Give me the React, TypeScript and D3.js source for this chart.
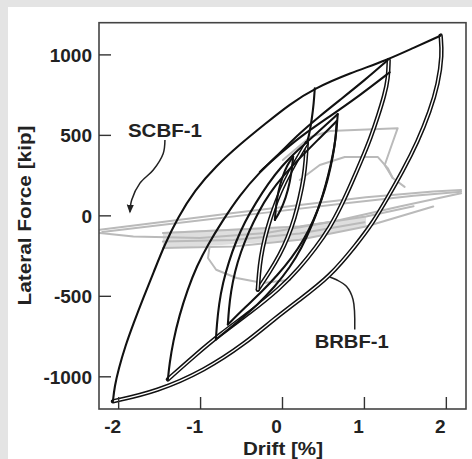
import React from 'react';
import * as d3 from 'd3';

type P = [number, number];

const xTicks = [-2, -1, 0, 1, 2];
const yTicks = [-1000, -500, 0, 500, 1000];

// BRBF-1 (black) hysteresis branches: [drift %, force kip]
const brbfA_up: P[] = [[-2.07,-1152],[-2.05,-1060],[-2.0,-950],[-1.92,-810],[-1.82,-670],[-1.7,-510],[-1.57,-347],[-1.44,-180],[-1.28,-12],[-1.07,161],[-0.81,310],[-0.53,440],[-0.216,570],[0.089,694],[0.394,793],[0.821,886],[1.272,967],[1.613,1047],[1.833,1097],[1.93,1120]];
const brbfA_lo: P[] = [[1.93,1120],[1.95,1000],[1.9,820],[1.8,650],[1.65,460],[1.47,280],[1.28,110],[1.1,-45],[0.9,-180],[0.577,-378],[0.211,-520],[-0.1,-640],[-0.45,-790],[-0.95,-960],[-1.533,-1091],[-2.07,-1152]];
const brbfB_up: P[] = [[-1.399,-1016],[-1.38,-920],[-1.335,-780],[-1.26,-620],[-1.16,-460],[-1.045,-310],[-0.911,-180],[-0.74,-37],[-0.521,130],[-0.277,273],[-0.033,390],[0.211,514],[0.455,620],[0.699,719],[1.004,843],[1.284,967]];
const brbfB2_up: P[] = [[-0.277,273],[-0.033,385],[0.211,490],[0.577,618],[0.943,748],[1.309,892]];
const brbfB_lo: P[] = [[1.296,967],[1.29,855],[1.245,750],[1.17,626],[1.075,483],[0.965,347],[0.85,211],[0.723,68],[0.577,-74],[0.406,-198],[0.211,-322],[-0.033,-452],[-0.399,-601],[-0.765,-737],[-1.07,-867],[-1.399,-1016]];
const brbfC_up: P[] = [[-0.813,-768],[-0.801,-675],[-0.777,-552],[-0.728,-415],[-0.655,-285],[-0.57,-161],[-0.46,-37],[-0.326,81],[-0.179,198],[-0.009,310],[0.187,409],[0.406,508],[0.674,632]];
const brbfC_lo: P[] = [[0.674,632],[0.662,545],[0.638,440],[0.589,316],[0.528,192],[0.455,68],[0.357,-62],[0.235,-198],[0.089,-322],[-0.094,-440],[-0.301,-551],[-0.545,-657],[-0.813,-768]];
const brbfC2_up: P[] = [[-0.667,-675],[-0.655,-582],[-0.63,-471],[-0.582,-347],[-0.509,-223],[-0.411,-99],[-0.301,19],[-0.155,143],[0.016,254],[0.211,359],[0.43,471],[0.662,589]];
const brbfC2_lo: P[] = [[0.662,589],[0.65,483],[0.613,359],[0.552,223],[0.479,99],[0.382,-25],[0.26,-149],[0.113,-260],[-0.057,-366],[-0.252,-471],[-0.46,-570],[-0.667,-675]];
const brbfD_up: P[] = [[-0.301,-458],[-0.289,-366],[-0.265,-254],[-0.216,-136],[-0.155,-25],[-0.07,99],[0.028,211],[0.15,328],[0.296,452]];
const brbfD_lo: P[] = [[0.296,452],[0.284,347],[0.26,235],[0.211,112],[0.15,-12],[0.065,-136],[-0.033,-242],[-0.155,-347],[-0.301,-458]];
const brbfE_up: P[] = [[-0.093,-25],[-0.081,58],[-0.053,151],[0,244],[0.057,316],[0.13,368]];
const brbfE_lo: P[] = [[0.13,368],[0.11,264],[0.069,161],[0.008,68],[-0.053,6],[-0.093,-25]];
const brbfV: P[] = [[0.394,793],[0.382,700],[0.358,600],[0.325,500],[0.296,452]];

// SCBF-1 (grey) traces
const scbfTop: P[] = [[-2.23,-87],[-1.42,-35],[-0.6,17],[0.21,68],[1.02,116],[1.84,151],[2.18,161]];
const scbfTop2: P[] = [[-2.2,-100],[-1.2,-40],[-0.2,20],[0.8,80],[1.6,125],[2.18,150]];
const scbfBot: P[] = [[2.18,140],[1.43,58],[0.62,-35],[-0.2,-107],[-1.01,-138],[-1.82,-128],[-2.23,-107]];
const scbfBand1: P[] = [[-1.46,-107],[-0.6,-87],[0.21,-66],[1.02,-4],[1.6,60]];
const scbfBand2: P[] = [[-1.46,-200],[-0.6,-190],[0.21,-149],[1.02,-66],[1.84,58]];
const scbfBand3: P[] = [[-1.46,-160],[-0.6,-150],[0.21,-110],[1.0,-40]];
const scbfBox1: P[] = [[0.004,347],[0.333,489],[0.577,527],[1.406,545],[1.333,440],[1.248,316],[1.345,235],[1.491,180]];
const scbfBox2: P[] = [[0.211,223],[0.455,316],[0.76,366],[1.162,366],[1.284,297],[1.345,235]];
const scbfLow: P[] = [[-0.89,-190],[-0.91,-262],[-0.81,-335],[-0.56,-386],[-0.24,-417],[0.09,-397]];

// annotations
const scbfLeader: P[] = [[-1.435,471],[-1.456,388],[-1.578,285],[-1.74,203],[-1.841,99],[-1.862,25]];
const brbfLeader: P[] = [[0.882,-706],[0.861,-520],[0.78,-438],[0.659,-397],[0.577,-380]];
const labelScbf = { text: 'SCBF-1', x: -1.435, y: 533 };
const labelBrbf = { text: 'BRBF-1', x: 0.845, y: -781 };

const W = 472, H = 459;
const L = 99, R = 466, T = 22.7, B = 409;

export default function App() {
  const x = d3.scaleLinear().domain([-2.24, 2.24]).range([L, R]);
  const y = d3.scaleLinear().domain([-1200, 1200]).range([B, T]);
  const line = d3.line<P>().x(d => x(d[0])).y(d => y(d[1])).curve(d3.curveBasis);
  const smooth = d3.line<P>().x(d => x(d[0])).y(d => y(d[1])).curve(d3.curveCatmullRom.alpha(0.5));
  const lin = d3.line<P>().x(d => x(d[0])).y(d => y(d[1]));
  const font = '"Liberation Sans", Arial, Helvetica, sans-serif';

  const greys = [scbfTop, scbfTop2, scbfBot, scbfBand1, scbfBand2, scbfBand3, scbfBox1, scbfBox2, scbfLow];
  const doubles = [brbfA_lo, brbfB_lo, brbfD_lo, brbfD_up];
  const singles = [brbfA_up, brbfB_up, brbfB2_up, brbfC_up, brbfC_lo, brbfC2_up, brbfC2_lo, brbfE_up, brbfE_lo, brbfV];

  return (
    <svg width={W} height={H} style={{ position: 'absolute', left: 0, top: 0 }} fontFamily={font}>
      <defs>
        <marker id="arr" viewBox="0 0 10 10" refX="8" refY="5" markerWidth="6" markerHeight="6" orient="auto">
          <path d="M0,1 L10,5 L0,9 z" fill="#222" />
        </marker>
        <clipPath id="clip"><rect x={L} y={T} width={R - L} height={B - T} /></clipPath>
      </defs>
      <rect x={0} y={0} width={W} height={H} fill="#e4e4e4" />
      <rect x={8} y={7} width={W - 8} height={H - 7} fill="#fff" />

      <g clipPath="url(#clip)" fill="none" strokeLinejoin="round" strokeLinecap="round">
        <path d={`M${x(-1.46)},${y(-100)}L${x(0.21)},${y(-60)}L${x(1.02)},${y(0)}L${x(1.02)},${y(-66)}L${x(0.21)},${y(-150)}L${x(-1.46)},${y(-205)}Z`} fill="#dedede" stroke="none" />
        {greys.map((g, i) => <path key={'g' + i} d={lin(g) || ''} stroke="#bababa" strokeWidth={2} />)}
        {doubles.map((g, i) => (
          <g key={'d' + i}>
            <path d={line(g) || ''} stroke="#111" strokeWidth={4.4} />
            <path d={line(g) || ''} stroke="#fff" strokeWidth={1.4} />
          </g>
        ))}
        {singles.map((g, i) => <path key={'s' + i} d={line(g) || ''} stroke="#111" strokeWidth={2.1} />)}
      </g>

      <rect x={L} y={T} width={R - L} height={B - T} fill="none" stroke="#444" strokeWidth={1.6} />
      {xTicks.map(t => (
        <g key={'xt' + t}>
          <line x1={x(t)} x2={x(t)} y1={B} y2={B - 12} stroke="#333" strokeWidth={1.4} />
          <text x={x(t) - 6} y={433} textAnchor="middle" fontSize={19} fontWeight="bold" fill="#222">{t}</text>
        </g>
      ))}
      {yTicks.map(t => (
        <g key={'yt' + t}>
          <line x1={L} x2={L + 12} y1={y(t)} y2={y(t)} stroke="#333" strokeWidth={1.4} />
          <text x={92} y={y(t)} dy="0.36em" textAnchor="end" fontSize={19} fontWeight="bold" fill="#222">{t}</text>
        </g>
      ))}
      <text x={283} y={455} textAnchor="middle" fontSize={19} fontWeight="bold" fill="#222" textLength={80} lengthAdjust="spacingAndGlyphs">Drift [%]</text>
      <text transform={`translate(31,215.5) rotate(-90)`} textAnchor="middle" fontSize={19} fontWeight="bold" fill="#222" textLength={180} lengthAdjust="spacingAndGlyphs">Lateral Force [kip]</text>

      <path d={smooth(scbfLeader) || ''} fill="none" stroke="#222" strokeWidth={1.5} markerEnd="url(#arr)" />
      <path d={smooth(brbfLeader) || ''} fill="none" stroke="#222" strokeWidth={1.5} />
      <text x={x(labelScbf.x)} y={y(labelScbf.y)} dy="0.36em" textAnchor="middle" fontSize={18} fontWeight="bold" fill="#222" textLength={74} lengthAdjust="spacingAndGlyphs">{labelScbf.text}</text>
      <text x={x(labelBrbf.x)} y={y(labelBrbf.y)} dy="0.36em" textAnchor="middle" fontSize={18} fontWeight="bold" fill="#222" textLength={74} lengthAdjust="spacingAndGlyphs">{labelBrbf.text}</text>
    </svg>
  );
}
